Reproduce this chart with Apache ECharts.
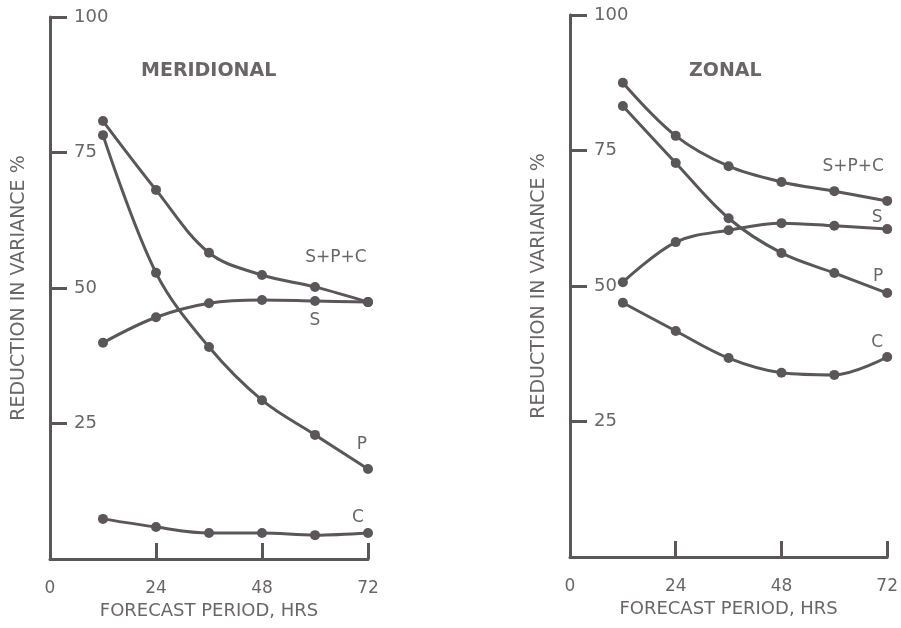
<!doctype html>
<html>
<head>
<meta charset="utf-8">
<title>Reduction in variance</title>
<style>
  html, body { margin: 0; padding: 0; background: #fff; }
  #main { width: 901px; height: 628px; }
</style>
</head>
<body>
<div id="main"></div>
<script src="https://cdn.jsdelivr.net/npm/echarts@6/dist/echarts.min.js"></script>
<script>
var hours = [12, 24, 36, 48, 60, 72];
var xTicks = [0, 24, 48, 72];
var yTicks = [25, 50, 75, 100];

// meridional
var merSPC = [80.8, 68.1, 56.5, 52.4, 50.2, 47.4];
var merS = [39.9, 44.6, 47.2, 47.8, 47.6, 47.4];
var merP = [78.2, 52.8, 39.1, 29.3, 22.9, 16.6];
var merC = [7.4, 5.9, 4.8, 4.8, 4.4, 4.8];

// zonal
var zonSPC = [87.5, 77.7, 72.1, 69.2, 67.5, 65.7];
var zonS = [50.7, 58.1, 60.3, 61.6, 61.1, 60.5];
var zonP = [83.2, 72.7, 62.5, 56.1, 52.4, 48.7];
var zonC = [46.9, 41.7, 36.7, 34.0, 33.6, 36.9];

var ink = '#5a5659';
var textInk = '#6a6668';
var font = 'DejaVu Sans';

var chart = echarts.init(document.getElementById('main'));

function pairs(vals) {
    return vals.map(function (v, i) { return [hours[i], v]; });
}

// the curve name sits beside one chosen point
function curve(name, vals, gi, labelIdx, offset) {
    var data = pairs(vals);
    data[labelIdx] = {
        value: data[labelIdx],
        label: {
            show: true,
            formatter: name,
            position: 'top',
            offset: offset,
            color: textInk,
            fontFamily: font,
            fontSize: 17
        }
    };
    return {
        type: 'line',
        name: name,
        xAxisIndex: gi,
        yAxisIndex: gi,
        smooth: 0.35,
        symbol: 'circle',
        symbolSize: 10,
        lineStyle: { color: ink, width: 3 },
        itemStyle: { color: ink },
        silent: true,
        animation: false,
        data: data
    };
}

function xAxis(gi) {
    return {
        type: 'value', gridIndex: gi, min: 0, max: 72, interval: 24,
        name: 'FORECAST PERIOD, HRS', nameLocation: 'middle', nameGap: 42,
        nameTextStyle: { color: textInk, fontFamily: font, fontSize: 18 },
        axisLine: { lineStyle: { color: ink, width: 3 } },
        axisTick: { inside: true, length: 16, lineStyle: { color: ink, width: 3 } },
        axisLabel: {
            margin: 21, color: textInk, fontFamily: font, fontSize: 17,
            formatter: function (v) { return xTicks.indexOf(v) >= 0 ? String(v) : ''; }
        },
        splitLine: { show: false }
    };
}

function yAxis(gi) {
    return {
        type: 'value', gridIndex: gi, min: 0, max: 100, interval: 25,
        name: 'REDUCTION IN VARIANCE %', nameLocation: 'middle', nameGap: 21,
        nameRotate: 90,
        nameTextStyle: { color: textInk, fontFamily: font, fontSize: 19 },
        axisLine: { lineStyle: { color: ink, width: 3 } },
        axisTick: { inside: true, length: 17, lineStyle: { color: ink, width: 3 } },
        axisLabel: {
            inside: true, margin: 24, color: textInk, fontFamily: font, fontSize: 18,
            formatter: function (v) { return yTicks.indexOf(v) >= 0 ? String(v) : ''; }
        },
        splitLine: { show: false }
    };
}

chart.setOption({
    backgroundColor: '#fff',
    animation: false,
    title: [
        {
            text: 'MERIDIONAL', left: 136, top: 57,
            textStyle: { color: textInk, fontFamily: font, fontWeight: 'bold', fontSize: 19 }
        },
        {
            text: 'ZONAL', left: 684, top: 57,
            textStyle: { color: textInk, fontFamily: font, fontWeight: 'bold', fontSize: 19 }
        }
    ],
    grid: [
        { left: 50, right: 533, top: 17, bottom: 69 },
        { left: 570, right: 13, top: 15, bottom: 71 }
    ],
    xAxis: [xAxis(0), xAxis(1)],
    yAxis: [yAxis(0), yAxis(1)],
    series: [
        curve('S+P+C', merSPC, 0, 5, [-32, -26]),
        curve('S', merS, 0, 4, [0, 38]),
        curve('P', merP, 0, 5, [-6, -6]),
        curve('C', merC, 0, 5, [-10, 3]),
        curve('S+P+C', zonSPC, 1, 5, [-34, -16]),
        curve('S', zonS, 1, 5, [-10, 7]),
        curve('P', zonP, 1, 5, [-9, 2]),
        curve('C', zonC, 1, 5, [-10, 4])
    ]
});

window.addEventListener('resize', function () {
    chart.resize();
});
</script>
</body>
</html>
